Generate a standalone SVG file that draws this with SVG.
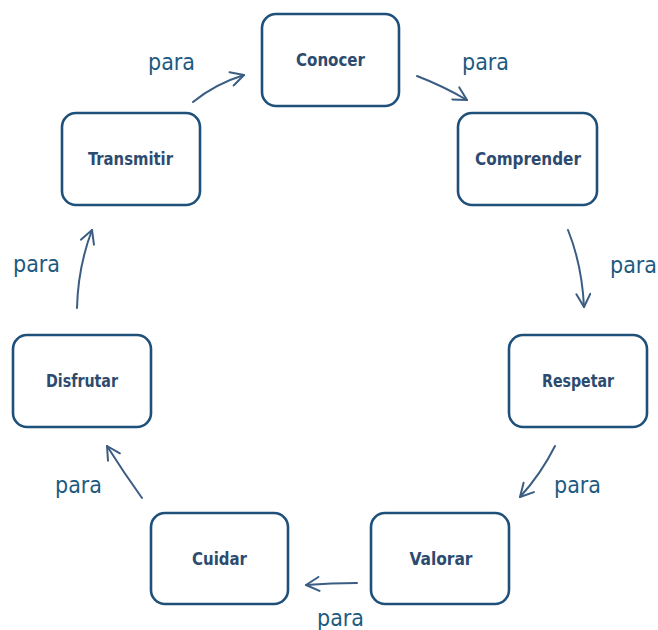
<svg xmlns="http://www.w3.org/2000/svg" width="658" height="630" viewBox="0 0 658 630">
<defs>
<style>
.box{fill:#ffffff;stroke:#1f5079;stroke-width:2.6}
.lbl{font-family:"DejaVu Sans Condensed","DejaVu Sans","Liberation Sans",sans-serif;font-weight:bold;font-size:18px;fill:#2c4b6f;text-anchor:middle}
.para{font-family:"DejaVu Sans Condensed","DejaVu Sans","Liberation Sans",sans-serif;font-size:23px;fill:#1b5a80}
.arr{fill:none;stroke:#3b5d83;stroke-width:2;stroke-linecap:round}
</style>
<marker id="ah" markerUnits="userSpaceOnUse" viewBox="0 0 16 16" refX="15" refY="8" markerWidth="16" markerHeight="16" orient="auto">
<path d="M2,1 L15,8 L2,15" fill="none" stroke="#3b5d83" stroke-width="2" stroke-linecap="round" stroke-linejoin="round"/>
</marker>
</defs>
<rect width="658" height="630" fill="#ffffff"/>
<g id="connectors">
<path class="arr" marker-end="url(#ah)" d="M193,102 Q215,84 244,75"/>
<path class="arr" marker-end="url(#ah)" d="M417,76 Q443,86 467,100"/>
<path class="arr" marker-end="url(#ah)" d="M568,230 Q582,265 584,307"/>
<path class="arr" marker-end="url(#ah)" d="M555,446 Q541,474 520,497"/>
<path class="arr" marker-end="url(#ah)" d="M357,583 Q331,583 306,585"/>
<path class="arr" marker-end="url(#ah)" d="M142,498 Q124,473 107,446"/>
<path class="arr" marker-end="url(#ah)" d="M77,308 Q78,267 92,230"/>
<text class="para" x="148" y="70">para</text>
<text class="para" x="462" y="70">para</text>
<text class="para" x="610" y="273">para</text>
<text class="para" x="554" y="493">para</text>
<text class="para" x="317" y="626">para</text>
<text class="para" x="55" y="493">para</text>
<text class="para" x="13" y="272">para</text>
</g>
<g id="conocer"><rect class="box" x="262" y="14" width="137" height="92" rx="14"/><text class="lbl" x="330.5" y="66" textLength="69" lengthAdjust="spacingAndGlyphs">Conocer</text></g>
<g id="comprender"><rect class="box" x="458" y="113" width="139" height="92" rx="14"/><text class="lbl" x="528" y="165" textLength="106" lengthAdjust="spacingAndGlyphs">Comprender</text></g>
<g id="respetar"><rect class="box" x="509" y="335" width="138" height="92" rx="14"/><text class="lbl" x="578" y="387" textLength="72" lengthAdjust="spacingAndGlyphs">Respetar</text></g>
<g id="valorar"><rect class="box" x="371" y="513" width="138" height="91" rx="14"/><text class="lbl" x="441" y="564.5" textLength="63" lengthAdjust="spacingAndGlyphs">Valorar</text></g>
<g id="cuidar"><rect class="box" x="151" y="513" width="137" height="91" rx="14"/><text class="lbl" x="219.5" y="564.5" textLength="55" lengthAdjust="spacingAndGlyphs">Cuidar</text></g>
<g id="disfrutar"><rect class="box" x="13" y="335" width="138" height="92" rx="14"/><text class="lbl" x="82" y="387" textLength="72" lengthAdjust="spacingAndGlyphs">Disfrutar</text></g>
<g id="transmitir"><rect class="box" x="62" y="113" width="138" height="92" rx="14"/><text class="lbl" x="130.5" y="165" textLength="85" lengthAdjust="spacingAndGlyphs">Transmitir</text></g>
</svg>
